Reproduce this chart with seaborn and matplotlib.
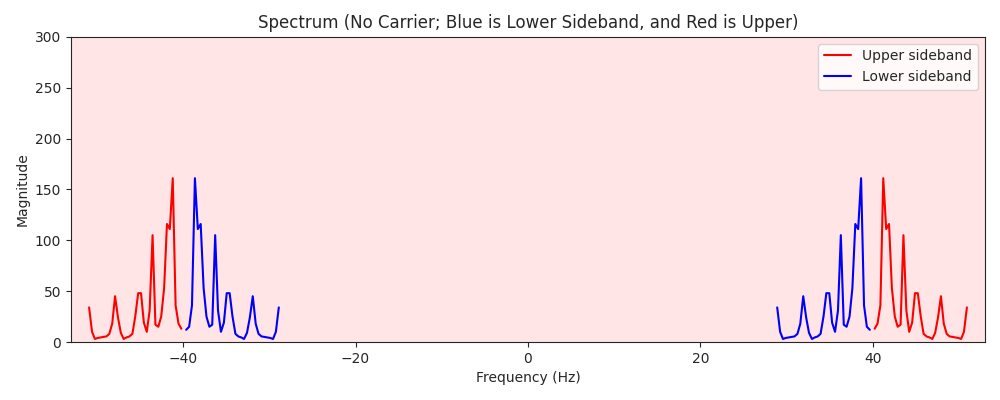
import numpy as np
import pandas as pd
import matplotlib
matplotlib.use("Agg")
import matplotlib.pyplot as plt
import seaborn as sns

# upper sideband (positive-frequency side, above the 40 Hz carrier)
freq_upper = [40.2, 40.53, 40.87, 41.2, 41.54, 41.87, 42.2, 42.54, 42.87, 43.21, 43.54,
              43.88, 44.21, 44.55, 44.88, 45.21, 45.55, 45.88, 46.22, 46.55, 46.89, 47.22,
              47.55, 47.89, 48.22, 48.56, 48.89, 49.23, 49.56, 49.89, 50.23, 50.56, 50.9]
mag_upper = [13, 18, 36, 161, 111, 116, 53, 25, 15, 17, 105,
             31, 10, 19, 48, 48, 25, 8, 5.5, 4.5, 3, 9,
             24, 45, 18, 8, 5.5, 5, 4.5, 4, 3, 10, 34]

# lower sideband (positive-frequency side, below the carrier)
freq_lower = [28.9, 29.24, 29.57, 29.91, 30.24, 30.58, 30.91, 31.25, 31.58, 31.92, 32.26,
              32.59, 32.93, 33.26, 33.6, 33.93, 34.27, 34.6, 34.94, 35.27, 35.61, 35.95,
              36.28, 36.62, 36.95, 37.29, 37.62, 37.96, 38.29, 38.63, 38.97, 39.3, 39.64]
mag_lower = [34, 10, 3, 4, 4.5, 5, 5.5, 8, 18, 45, 24,
             9, 3, 4.5, 5.5, 8, 25, 48, 48, 19, 10, 31,
             105, 17, 15, 25, 53, 116, 111, 161, 36, 15, 12]

sns.set_style("ticks")

fig, ax = plt.subplots(figsize=(10, 4), dpi=100)
ax.set_facecolor((1, 0, 0, 0.1))

# positive and mirrored negative halves of the spectrum
up_pos = pd.DataFrame({"f": freq_upper, "m": mag_upper})
up_neg = pd.DataFrame({"f": -np.array(freq_upper), "m": mag_upper})
lo_pos = pd.DataFrame({"f": freq_lower, "m": mag_lower})
lo_neg = pd.DataFrame({"f": -np.array(freq_lower), "m": mag_lower})

sns.lineplot(data=up_pos, x="f", y="m", color="red", label="Upper sideband",
             sort=False, estimator=None, ax=ax, linewidth=1.5)
sns.lineplot(data=lo_pos, x="f", y="m", color="blue", label="Lower sideband",
             sort=False, estimator=None, ax=ax, linewidth=1.5)
sns.lineplot(data=up_neg, x="f", y="m", color="red", sort=False, estimator=None,
             ax=ax, linewidth=1.5)
sns.lineplot(data=lo_neg, x="f", y="m", color="blue", sort=False, estimator=None,
             ax=ax, linewidth=1.5)

ax.set_xlim(-53, 53)
ax.set_ylim(0, 300)
ax.set_title("Spectrum (No Carrier; Blue is Lower Sideband, and Red is Upper)", fontsize=12)
ax.set_xlabel("Frequency (Hz)")
ax.set_ylabel("Magnitude")
ax.legend(loc="upper right")

fig.subplots_adjust(left=0.071, right=0.985, top=0.908, bottom=0.145)
fig.savefig("out.png", dpi=100)
